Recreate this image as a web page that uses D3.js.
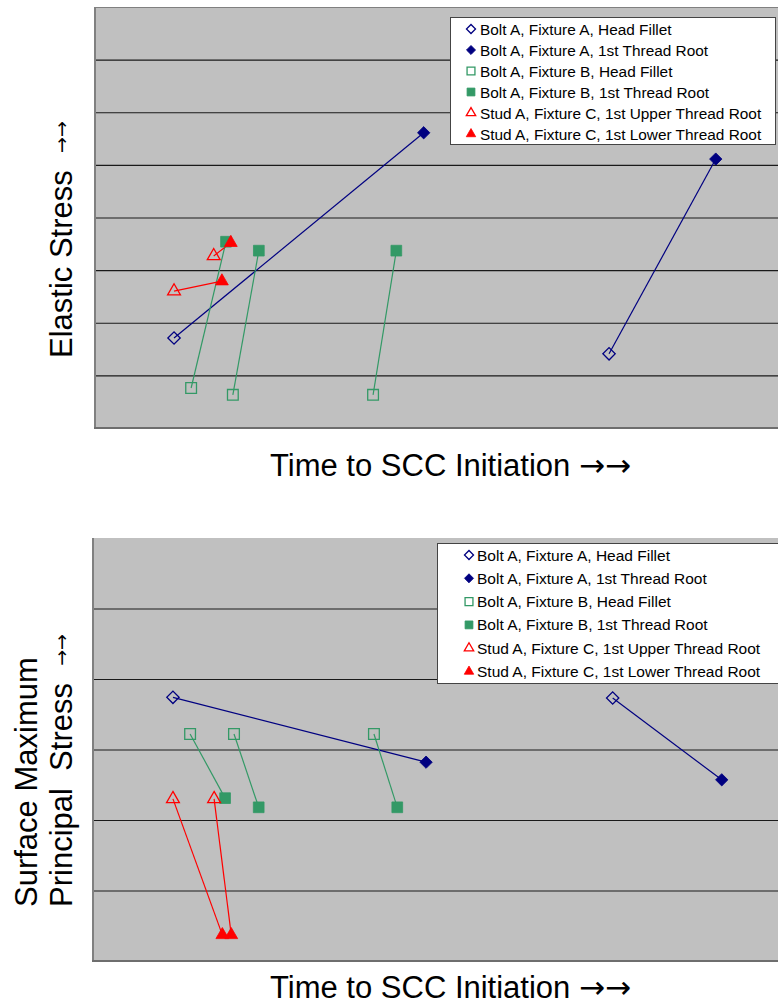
<!DOCTYPE html>
<html>
<head>
<meta charset="utf-8">
<script src="https://cdn.jsdelivr.net/npm/d3@7"></script>
<style>
  body { margin: 0; background: #fff; }
  text { font-family: "Liberation Sans", Arial, sans-serif; white-space: pre; }
</style>
</head>
<body>
<script>
// Legend entries (same for both charts)
const seriesNames = [
    "Bolt A, Fixture A, Head Fillet",
    "Bolt A, Fixture A, 1st Thread Root",
    "Bolt A, Fixture B, Head Fillet",
    "Bolt A, Fixture B, 1st Thread Root",
    "Stud A, Fixture C, 1st Upper Thread Root",
    "Stud A, Fixture C, 1st Lower Thread Root"
];

// Top chart: elastic stress vs time (arbitrary units, x 0-10, y 0-8)
const elasticHeadA  = [[1.17, 1.71], [7.53, 1.41]];
const elasticRootA  = [[4.82, 5.61], [9.09, 5.11]];
const elasticHeadB  = [[1.42, 0.76], [2.03, 0.63], [4.08, 0.63]];
const elasticRootB  = [[1.93, 3.54], [2.41, 3.37], [4.42, 3.37]];
const elasticUpperC = [[1.17, 2.60], [1.75, 3.27]];
const elasticLowerC = [[1.87, 2.79], [2.00, 3.52]];
const elasticTicks  = [0, 1, 2, 3, 4, 5, 6, 7, 8];

// Bottom chart: surface max principal stress vs time (x 0-10, y 0-6)
const smpsHeadA  = [[1.18, 3.74], [7.59, 3.73]];
const smpsRootA  = [[4.87, 2.82], [9.18, 2.57]];
const smpsHeadB  = [[1.43, 3.22], [2.07, 3.22], [4.11, 3.22]];
const smpsRootB  = [[1.94, 2.31], [2.43, 2.18], [4.45, 2.18]];
const smpsUpperC = [[1.18, 2.30], [1.78, 2.30]];
const smpsLowerC = [[1.90, 0.37], [2.03, 0.37]];
const smpsTicks  = [0, 1, 2, 3, 4, 5, 6];

// marker styles per series
const navy = "#000080", green = "#339966", red = "#ff0000";
const styles = [
    {shape: "diamond",  color: navy,  filled: false},
    {shape: "diamond",  color: navy,  filled: true},
    {shape: "square",   color: green, filled: false},
    {shape: "square",   color: green, filled: true},
    {shape: "triangle", color: red,   filled: false},
    {shape: "triangle", color: red,   filled: true}
];

const svg = d3.select("body").append("svg")
    .attr("width", 778)
    .attr("height", 1004);

function symbolPath(shape, size) {
    if (shape === "triangle") return d3.symbol(d3.symbolTriangle, size * 0.62)();
    return d3.symbol(d3.symbolSquare, size * (shape === "diamond" ? 0.66 : 1))();
}

function drawMarker(g, shape, style, x, y, size) {
    g.append("path")
        .attr("d", symbolPath(shape, size))
        .attr("transform", `translate(${x},${y})` + (shape === "diamond" ? " rotate(45)" : ""))
        .attr("fill", style.filled ? style.color : "none")
        .attr("stroke", style.color)
        .attr("stroke-width", style.filled ? 0.8 : 1.3);
}

function drawChart(opt) {
    const g = svg.append("g");
    const x = d3.scaleLinear().domain([0, 10]).range([opt.left, 778]);
    const y = d3.scaleLinear().domain(d3.extent(opt.ticks)).range([opt.bottom, opt.top]);

    // plot background
    g.append("rect")
        .attr("x", opt.left).attr("y", opt.top)
        .attr("width", 782 - opt.left).attr("height", opt.bottom - opt.top)
        .attr("fill", "#c0c0c0");

    // gridlines
    const grid = g.append("g")
        .attr("transform", `translate(${opt.left},0)`)
        .call(d3.axisRight(y).tickValues(opt.ticks.slice(1, -1)).tickSize(782 - opt.left).tickFormat(""));
    grid.select(".domain").remove();
    grid.selectAll(".tick line").attr("stroke", "#1a1a1a").attr("stroke-width", 1.2);

    // plot frame (left / bottom / top)
    g.append("line").attr("x1", opt.left + 1).attr("x2", opt.left + 1)
        .attr("y1", opt.top).attr("y2", opt.bottom)
        .attr("stroke", "#808080").attr("stroke-width", 2);
    g.append("line").attr("x1", opt.left).attr("x2", 782)
        .attr("y1", opt.bottom).attr("y2", opt.bottom)
        .attr("stroke", "#6e6e6e").attr("stroke-width", 2);
    if (opt.topBorder) {
        g.append("line").attr("x1", opt.left).attr("x2", 782)
            .attr("y1", opt.top + 0.5).attr("y2", opt.top + 0.5)
            .attr("stroke", "#808080").attr("stroke-width", 1);
    }

    // connecting lines: head/upper point i joins root/lower point i
    const line = d3.line().x(d => x(d[0])).y(d => y(d[1]));
    [[0, 1], [2, 3], [4, 5]].forEach(([a, b]) => {
        opt.series[a].forEach((p, i) => {
            g.append("path")
                .attr("d", line([p, opt.series[b][i]]))
                .attr("fill", "none")
                .attr("stroke", styles[a].color)
                .attr("stroke-width", 1.2);
        });
    });

    // markers
    opt.series.forEach((pts, s) => {
        pts.forEach(p => drawMarker(g, styles[s].shape, styles[s], x(p[0]), y(p[1]), 115));
    });

    // legend
    const lg = opt.legend;
    g.append("rect")
        .attr("x", lg.x + 0.5).attr("y", lg.y + 0.5)
        .attr("width", lg.w).attr("height", lg.h)
        .attr("fill", "#fff").attr("stroke", "#444").attr("stroke-width", 1);
    seriesNames.forEach((name, i) => {
        const cy = lg.row0 + lg.step * i;
        drawMarker(g, styles[i].shape, styles[i], lg.mx, cy, 62);
        g.append("text")
            .attr("x", lg.tx).attr("y", cy + 5.5)
            .attr("font-size", lg.fs)
            .attr("fill", "#000")
            .text(name);
    });

    // axis titles
    const xt = g.append("text")
        .attr("x", 270).attr("y", opt.xTitleY)
        .attr("font-size", 31)
        .text("Time to SCC Initiation ");
    xt.append("tspan")
        .style("font-family", "'DejaVu Sans'")
        .text("\u2192\u2192");
    opt.yTitle.forEach(t => {
        const yt = g.append("text")
            .attr("transform", `translate(${t.x},${t.y}) rotate(-90)`)
            .attr("font-size", 31)
            .text(t.text);
        if (t.arrows) {
            yt.append("tspan").text("  ");
            yt.append("tspan")
                .style("font-family", "'DejaVu Sans'")
                .attr("font-size", 19).attr("dy", -4)
                .text("\u2192\u2192");
        }
    });
}

drawChart({
    left: 94, top: 7, bottom: 428, topBorder: true,
    ticks: elasticTicks,
    series: [elasticHeadA, elasticRootA, elasticHeadB, elasticRootB, elasticUpperC, elasticLowerC],
    legend: {x: 450, y: 17, w: 325, h: 127, row0: 29, step: 21, mx: 471, tx: 480, fs: 15.4},
    xTitleY: 476,
    yTitle: [{x: 72, y: 358, text: "Elastic Stress", arrows: true}]
});

drawChart({
    left: 92, top: 538, bottom: 961, topBorder: false,
    ticks: smpsTicks,
    series: [smpsHeadA, smpsRootA, smpsHeadB, smpsRootB, smpsUpperC, smpsLowerC],
    legend: {x: 437, y: 543, w: 345, h: 140, row0: 555, step: 23.3, mx: 469, tx: 477, fs: 15.5},
    xTitleY: 998,
    yTitle: [
        {x: 37, y: 907, text: "Surface Maximum"},
        {x: 72, y: 907, text: "Principal  Stress", arrows: true}
    ]
});
</script>
</body>
</html>
